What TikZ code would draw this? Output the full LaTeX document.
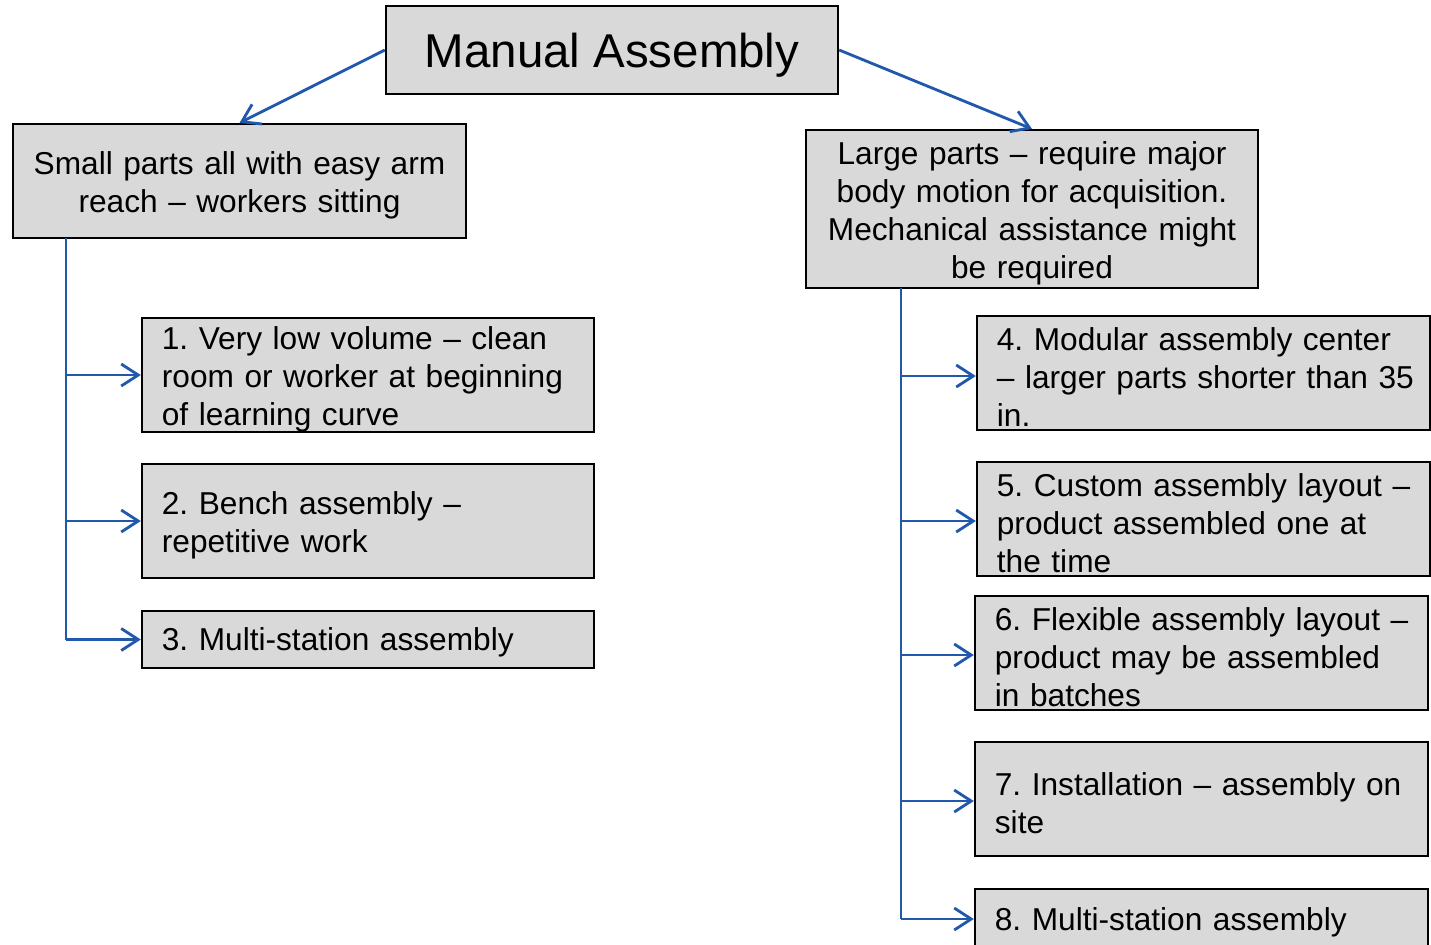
\documentclass[tikz,border=0pt]{standalone}
\usepackage{fontspec}
\setmainfont{Liberation Sans}
\usetikzlibrary{arrows.meta}
\definecolor{connblue}{RGB}{32,88,172}
\definecolor{boxgray}{RGB}{217,217,217}
\tikzset{
  box/.style={draw=black, line width=0.6pt, fill=boxgray, inner sep=0pt, inner xsep=0.2cm,
    font=\fontsize{9pt}{10.8pt}\selectfont\frenchspacing,
    execute at end node={\par\vspace*{-0.08cm}}},
  cbox/.style={box, align=center, text width=#1, minimum height=1.14cm},
  lbox/.style={box, align=left, text width=#1, minimum height=1.14cm},
  conn/.style={draw=connblue, line width=0.8pt, -{Straight Barb[length=1.7mm, width=2.2mm, line width=0.8pt]}},
  trunk/.style={draw=connblue, line width=0.8pt}
}
\begin{document}
\begin{tikzpicture}[x=0.01cm, y={(0,-0.01cm)}]
\useasboundingbox (0,0) rectangle (1431,944);
\node[draw=black, line width=0.6pt, fill=boxgray, inner sep=0pt, minimum width=4.52cm, minimum height=0.88cm, text depth=0pt, font=\fontsize{13.5pt}{16pt}\selectfont] (ma) at (612,50) {Manual Assembly};
\node[cbox=4.13cm] (sp) at (239.5,181) {\mbox{Small parts all with easy arm}\\\mbox{reach -- workers sitting}};
\node[cbox=4.12cm, minimum height=1.58cm] (lp) at (1032,209) {\mbox{Large parts -- require major}\\\mbox{body motion for acquisition.}\\\mbox{Mechanical assistance might}\\\mbox{be required}};
\node[lbox=4.12cm] (b1) at (368,375) {\mbox{1. Very low volume -- clean}\\\mbox{room or worker at beginning}\\\mbox{of learning curve}};
\node[lbox=4.12cm] (b2) at (368,521) {\mbox{2. Bench assembly --}\\\mbox{repetitive work}};
\node[lbox=4.12cm, minimum height=0.57cm] (b3) at (368,639.5) {\mbox{3. Multi-station assembly}};
\node[lbox=4.13cm] (b4) at (1203.5,373) {\mbox{4. Modular assembly center}\\\mbox{-- larger parts shorter than 35}\\\mbox{in.}};
\node[lbox=4.13cm] (b5) at (1203.5,519) {\mbox{5. Custom assembly layout --}\\\mbox{product assembled one at}\\\mbox{the time}};
\node[lbox=4.13cm] (b6) at (1201.5,653) {\mbox{6. Flexible assembly layout --}\\\mbox{product may be assembled}\\\mbox{in batches}};
\node[lbox=4.13cm] (b7) at (1201.5,799) {\mbox{7. Installation -- assembly on}\\\mbox{site}};
\node[lbox=4.13cm, minimum height=0.6cm] (b8) at (1201.5,919) {\mbox{8. Multi-station assembly}};
\draw[conn] (ma.west) -- (sp.north);
\draw[conn] (ma.east) -- (lp.north);
\coordinate (lt) at (66,238);
\coordinate (rt) at (901,288);
\coordinate (a4) at ([yshift=-0.03cm]b4.west);
\coordinate (a5) at ([yshift=-0.02cm]b5.west);
\coordinate (a6) at ([yshift=-0.02cm]b6.west);
\coordinate (a7) at ([yshift=-0.02cm]b7.west);
\draw[trunk] (lt) -- (lt |- b3.west);
\draw[conn] (lt |- b3.west) -- (b3.west);
\draw[conn] (lt |- b1.west) -- (b1.west);
\draw[conn] (lt |- b2.west) -- (b2.west);
\draw[trunk] (rt) -- (rt |- b8.west);
\draw[conn] (rt |- b8.west) -- (b8.west);
\draw[conn] (rt |- a4) -- (a4);
\draw[conn] (rt |- a5) -- (a5);
\draw[conn] (rt |- a6) -- (a6);
\draw[conn] (rt |- a7) -- (a7);
\end{tikzpicture}
\end{document}
